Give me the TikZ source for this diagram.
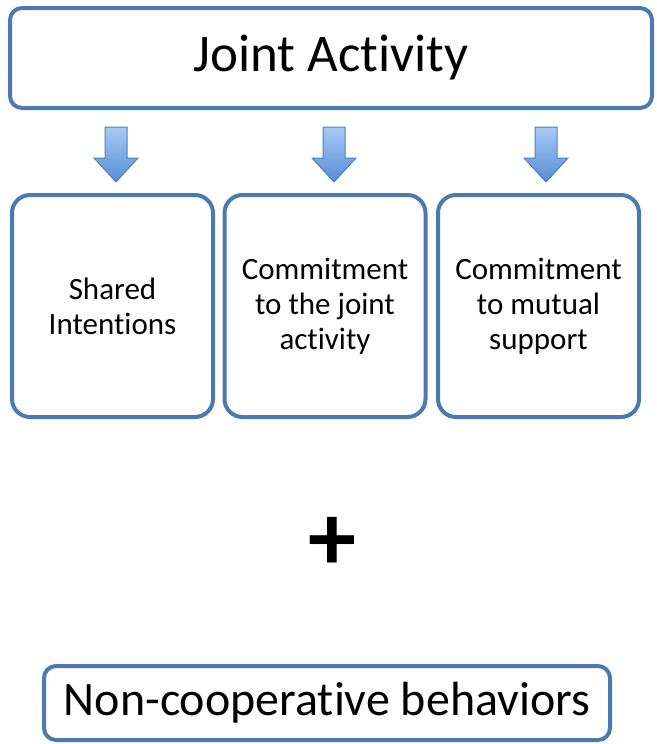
\documentclass[tikz,border=0pt]{standalone}
\usepackage{fontspec}
\setmainfont{Carlito}[Ligatures=NoCommon]
\usetikzlibrary{positioning}
\definecolor{boxblue}{RGB}{74,122,176}
\definecolor{arrowtop}{RGB}{166,202,245}
\definecolor{arrowbot}{RGB}{88,140,212}
\definecolor{arrowedge}{RGB}{80,128,190}
\tikzset{
  roundbox/.style={draw=boxblue, line width=4pt, rounded corners=12pt, fill=white, inner sep=0pt, align=center},
  smallbox/.style={roundbox, rounded corners=18pt, minimum width=201pt, minimum height=222pt, font=\fontsize{31}{35}\selectfont},
  downarrow/.style={draw=arrowedge, line width=1pt, top color=arrowtop, bottom color=arrowbot}
}
\begin{document}
\begin{tikzpicture}[x=1pt,y=-1pt]
\useasboundingbox (0,0) rectangle (656,744);
\node[roundbox, minimum width=642pt, minimum height=100pt, font=\fontsize{53}{60}\selectfont] (joint) at (331,58) {Joint Activity};
\node[smallbox] (shared) at (112.5,306) {Shared\\Intentions};
\node[smallbox] (cjoint) at (325,306) {Commitment\\to the joint\\activity};
\node[smallbox] (cmutual) at (538.5,306) {Commitment\\to mutual\\support};
\foreach \x in {116,334,546}
  \shade[downarrow] (\x-11,127) -- (\x+11,127) -- (\x+11,158) -- (\x+22,158) -- (\x,182) -- (\x-22,158) -- (\x-11,158) -- cycle;
\node[font=\fontsize{96}{96}\selectfont\bfseries] (plus) at (332,544) {+};
\node[roundbox, minimum width=566pt, minimum height=74pt, font=\fontsize{48}{55}\selectfont] (noncoop) at (327,703) {Non-cooperative behaviors};
\end{tikzpicture}
\end{document}
